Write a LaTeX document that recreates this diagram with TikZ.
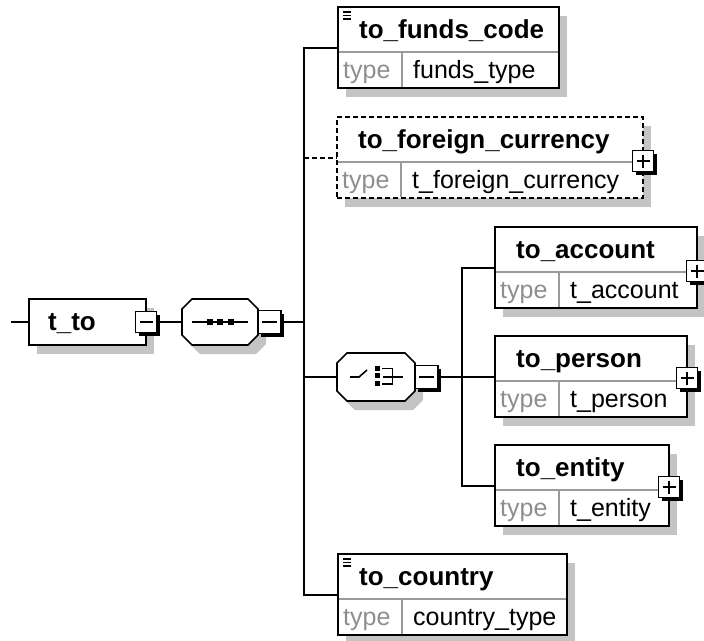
\documentclass[tikz,border=0pt]{standalone}
\usepackage{fontspec}
\setmainfont{Liberation Sans}
\usetikzlibrary{shadows,calc}
\pgfdeclarelayer{background}
\pgfsetlayers{background,main}
\definecolor{shadowc}{HTML}{C4C4C4}
\definecolor{typegrey}{HTML}{8E8E8E}
\definecolor{divgrey}{HTML}{9A9A9A}
\tikzset{
  elembox/.style={draw=black, line width=1.8pt, fill=white, anchor=north west,
    minimum height=81pt, inner sep=0pt, outer sep=0pt,
    drop shadow={shadow xshift=8pt, shadow yshift=-9pt, fill=shadowc, opacity=1}},
  optional/.style={dash pattern=on 5pt off 3pt},
  divider/.style={draw=divgrey, line width=1.5pt, shorten <=0.9pt, shorten >=0.9pt},
  lbl/.style={anchor=base west, inner sep=0pt, font=\fontsize{26}{30}\selectfont\bfseries},
  typel/.style={anchor=base west, inner sep=0pt, text=typegrey, font=\fontsize{25}{30}\selectfont},
  typev/.style={anchor=base west, inner sep=0pt, font=\fontsize{25}{30}\selectfont},
  pmbox/.style={draw=black, line width=1.6pt, fill=white, minimum size=21pt, inner sep=0pt, outer sep=0pt,
    drop shadow={shadow xshift=3pt, shadow yshift=-3pt, fill=black, opacity=1}},
  pmline/.style={line width=1.8pt},
  conn/.style={line width=1.8pt, line cap=rect},
  compobox/.style={draw=black, fill=white, line width=1.6pt},
  iconline/.style={line width=1.6pt},
  menuicon/.style={line width=1.5pt}
}
\newcommand{\elem}[7]{%
  \node[elembox,minimum width=#4pt,#7] (#1) at (#2,#3) {};
  \draw[divider] ([yshift=-45pt]#1.north west) -- ([yshift=-45pt]#1.north east);
  \draw[divider] ([xshift=64pt,yshift=-45pt]#1.north west) -- ([xshift=64pt]#1.south west);
  \node[lbl] (#1-l) at ([xshift=21pt,yshift=-31pt]#1.north west) {#5};
  \node[typel] (#1-t) at ([xshift=5pt,yshift=-71pt]#1.north west) {type};
  \node[typev] (#1-v) at ([xshift=75pt,yshift=-71pt]#1.north west) {#6};
  \coordinate (#1-in) at ([yshift=-41pt]#1.north west);
}
\newcommand{\pmsign}[4]{%
  \node[pmbox,#4] (#1) at (#2) {};
  \draw[pmline] ([xshift=4pt]#1.west) -- ([xshift=-4pt]#1.east);
  \ifnum#3=1 \draw[pmline] ([yshift=-4pt]#1.north) -- ([yshift=4pt]#1.south);\fi
}
\newcommand{\octpath}[3]{(-#1+#3,-#2) -- (#1-#3,-#2) -- (#1,-#2+#3) -- (#1,#2-#3) -- (#1-#3,#2) -- (-#1+#3,#2) -- (-#1,#2-#3) -- (-#1,-#2+#3) -- cycle}
\newcommand{\compo}[5]{%
  \fill[shadowc,shift={({#2+8},{#3+9})}] \octpath{#4}{#5}{10};
  \filldraw[compobox,shift={(#2,#3)}] \octpath{#4}{#5}{10};
  \coordinate (#1-w) at ({#2-#4},#3);
  \coordinate (#1-e) at ({#2+#4},#3);
}
\begin{document}
\begin{tikzpicture}[x=1pt,y=-1pt]
\useasboundingbox (0,0) rectangle (704,640);

% root element
\node[elembox, minimum width=117pt, minimum height=46pt] (tto) at (29,299) {};
\node[lbl] (tto-l) at ([xshift=19pt,yshift=-31pt]tto.north west) {t\_to};
\pmsign{tto-pm}{tto.east}{0}{}

% sequence compositor
\compo{seq}{220}{322}{38}{23}
\draw[iconline] (192,322) -- (248,322);
\foreach \sx in {209.5,220,230.5} \fill (\sx,322) +(-3,-3) rectangle +(3,3);
\pmsign{seq-pm}{seq-e}{0}{anchor=west, minimum size=23pt}

% choice compositor
\compo{choice}{376}{377}{39}{24}
\draw[iconline] (350,377) -- (359,377) -- (367,370);
\foreach \sy in {368,375.5,383} \fill (377,\sy) +(-2.5,-2.5) rectangle +(2.5,2.5);
\draw[iconline] (382,368.5) -- (392.5,368.5) -- (392.5,384) -- (382,384);
\draw[iconline] (383,377) -- (403,377);
\pmsign{choice-pm}{choice-e}{0}{anchor=west, minimum size=23pt}

% elements
\elem{funds}{338}{7}{221}{to\_funds\_code}{funds\_type}{}
\foreach \d in {5,8.5,12} \draw[menuicon] ([xshift=5pt,yshift=-\d pt]funds.north west) -- ++(8,0);
\elem{foreign}{337}{117}{306}{to\_foreign\_currency}{t\_foreign\_currency}{optional}
\pmsign{foreign-pm}{[yshift=-44pt]foreign.north east}{1}{}
\elem{account}{495}{227}{202}{to\_account}{t\_account}{}
\pmsign{account-pm}{[yshift=-44pt]account.north east}{1}{}
\elem{person}{495}{336}{192}{to\_person}{t\_person}{}
\pmsign{person-pm}{[yshift=-42pt]person.north east}{1}{}
\elem{entity}{495}{445}{174}{to\_entity}{t\_entity}{}
\pmsign{entity-pm}{[yshift=-42pt]entity.north east}{1}{}
\elem{country}{338}{554}{229}{to\_country}{country\_type}{}
\foreach \d in {5,8.5,12} \draw[menuicon] ([xshift=5pt,yshift=-\d pt]country.north west) -- ++(8,0);

% connectors
\begin{pgfonlayer}{background}
\coordinate (lstart) at (12,322);
\coordinate (trunk) at (304,0);
\coordinate (trunkb) at (462,0);
\draw[conn] (lstart) -- (tto.west);
\draw[conn] (tto-pm.east) -- (seq-w);
\draw[conn] (seq-pm.east) -- (seq-pm.east -| trunk);
\draw[conn] (trunk |- funds-in) -- (trunk |- country-in);
\draw[conn] (trunk |- funds-in) -- (funds-in);
\draw[conn,optional,line cap=butt] (trunk |- foreign-in) -- (foreign-in);
\draw[conn] (trunk |- choice-w) -- (choice-w);
\draw[conn] (trunk |- country-in) -- (country-in);
\draw[conn] (choice-pm.east) -- (choice-pm.east -| trunkb);
\draw[conn] (trunkb |- account-in) -- (trunkb |- entity-in);
\draw[conn] (trunkb |- account-in) -- (account-in);
\draw[conn] (trunkb |- person-in) -- (person-in);
\draw[conn] (trunkb |- entity-in) -- (entity-in);
\end{pgfonlayer}
\end{tikzpicture}
\end{document}
